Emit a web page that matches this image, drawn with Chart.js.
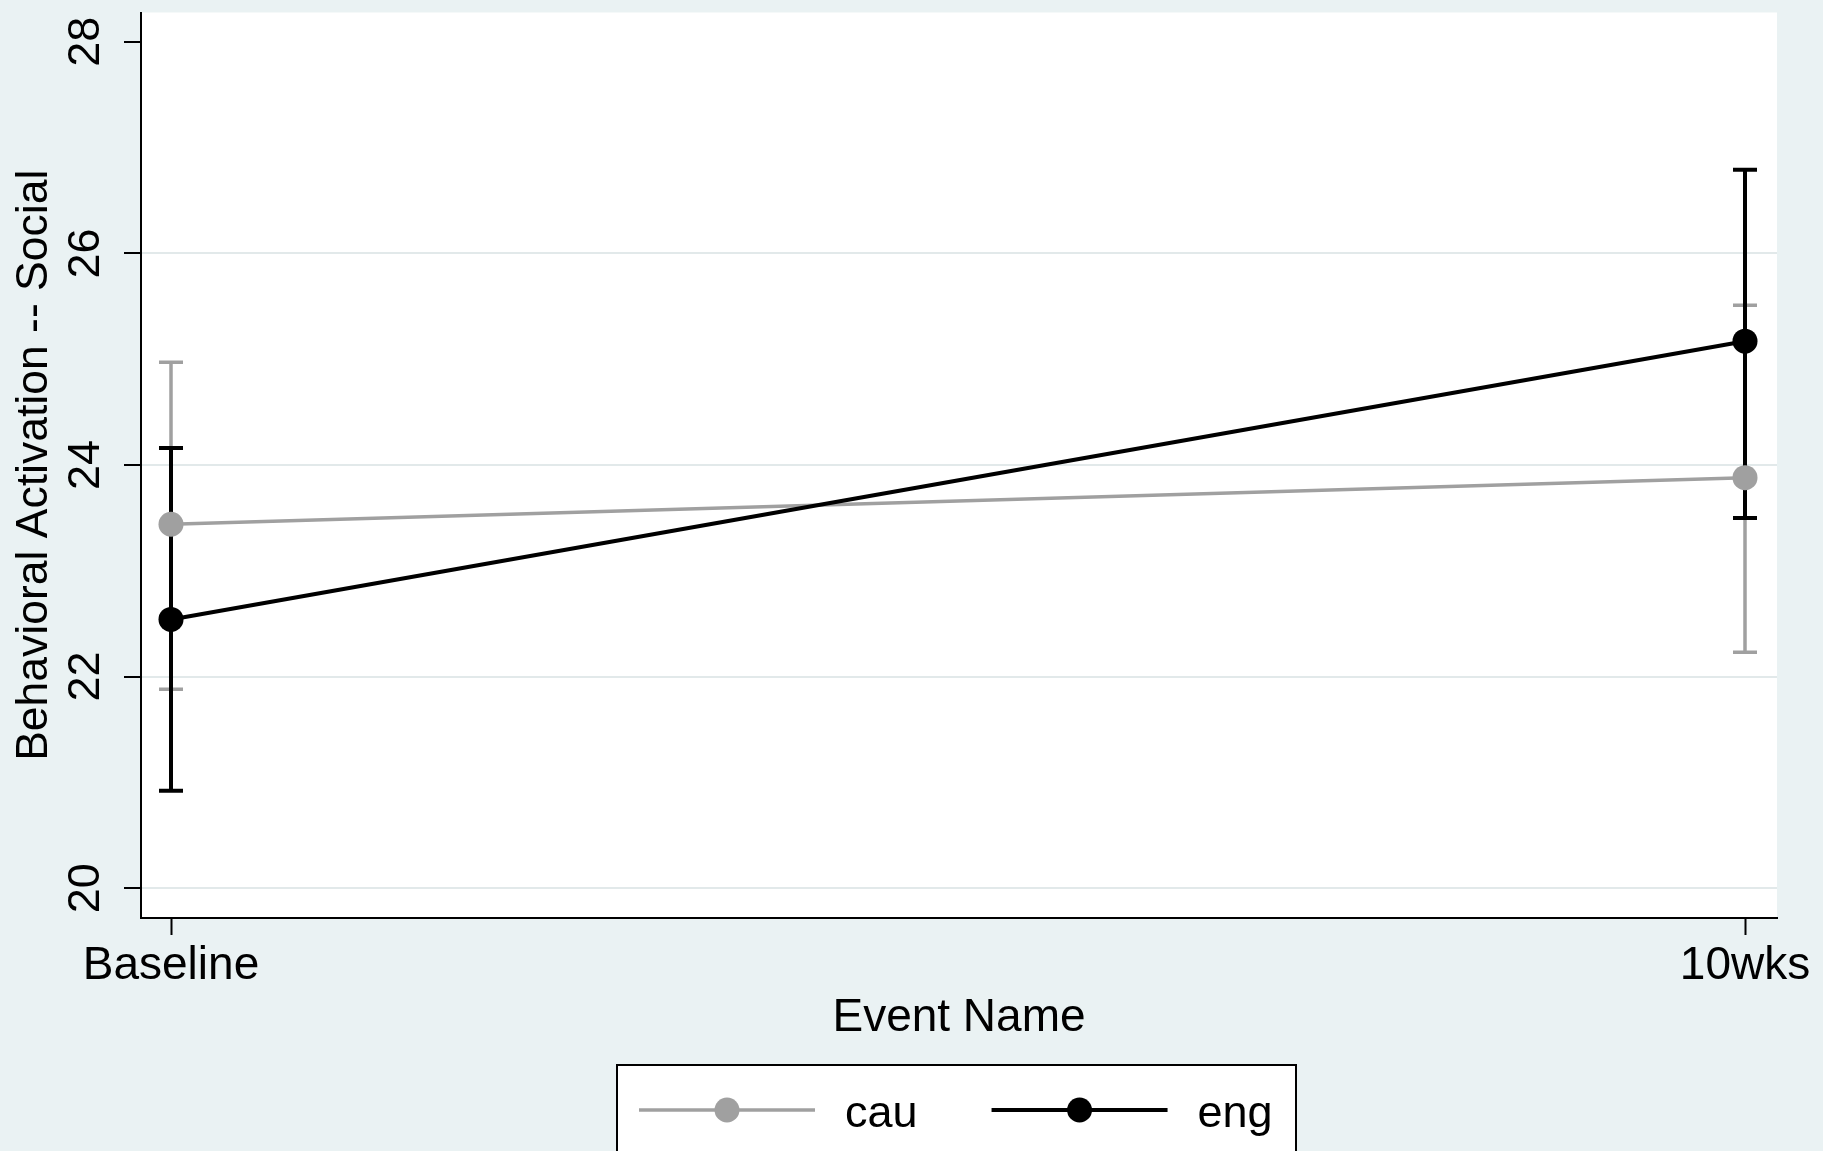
<!DOCTYPE html>
<html>
<head>
<meta charset="utf-8">
<script src="https://cdn.jsdelivr.net/npm/chart.js@4.4.1/dist/chart.umd.min.js"></script>
<style>
  html, body { margin: 0; padding: 0; background: #eaf2f3; overflow: hidden; }
  canvas { display: block; }
</style>
</head>
<body>
<canvas id="chart" width="1823" height="1151"></canvas>
<script>
// Time points and their positions on the x axis
const eventLabels = ['Baseline', '10wks'];
const eventPos = [0, 1];

// y-axis tick values
const yTicks = [20, 22, 24, 26, 28];

// Group means with 95% confidence limits
const cauMean = [23.44, 23.88];
const cauLow  = [21.88, 22.23];
const cauHigh = [24.97, 25.51];

const engMean = [22.54, 25.17];
const engLow  = [20.92, 23.50];
const engHigh = [24.16, 26.79];

const FONT = '"Liberation Sans", Arial, Helvetica, sans-serif';
const BG = '#eaf2f3';
const GRID = '#e2e9ea';
const CAU = '#a0a0a0';
const ENG = '#000000';

Chart.defaults.font.family = FONT;
Chart.defaults.color = '#000';

function points(means) {
  return eventPos.map((x, i) => ({ x: x, y: means[i] }));
}

// Light outer background with a white plot region
const backdrop = {
  id: 'backdrop',
  beforeDraw(chart) {
    const { ctx, chartArea: a } = chart;
    ctx.save();
    ctx.fillStyle = BG;
    ctx.fillRect(0, 0, chart.width, chart.height);
    ctx.fillStyle = '#ffffff';
    ctx.fillRect(a.left, a.top, a.right - a.left, a.bottom - a.top);
    ctx.restore();
  }
};

// Capped confidence-interval whiskers, drawn beneath the connected lines
const ciBars = {
  id: 'ciBars',
  beforeDatasetsDraw(chart, args, opts) {
    const { ctx, scales: { x, y } } = chart;
    ctx.save();
    chart.data.datasets.forEach(ds => {
      ctx.strokeStyle = ds.borderColor;
      ctx.lineWidth = ds.borderWidth;
      ctx.lineCap = 'butt';
      ds.data.forEach((p, i) => {
        const px = x.getPixelForValue(p.x);
        const yLo = y.getPixelForValue(ds.ciLow[i]);
        const yHi = y.getPixelForValue(ds.ciHigh[i]);
        ctx.beginPath();
        ctx.moveTo(px, yLo);
        ctx.lineTo(px, yHi);
        ctx.moveTo(px - opts.capHalf, yLo);
        ctx.lineTo(px + opts.capHalf, yLo);
        ctx.moveTo(px - opts.capHalf, yHi);
        ctx.lineTo(px + opts.capHalf, yHi);
        ctx.stroke();
      });
    });
    ctx.restore();
  }
};

// Boxed legend below the axis: line-with-marker key followed by the group name
const boxedLegend = {
  id: 'boxedLegend',
  afterDraw(chart, args, o) {
    const { ctx } = chart;
    ctx.save();
    ctx.fillStyle = '#ffffff';
    ctx.fillRect(o.left, o.top, o.right - o.left, o.bottom - o.top);
    ctx.strokeStyle = '#000';
    ctx.lineWidth = 2;
    ctx.strokeRect(o.left, o.top, o.right - o.left, o.bottom - o.top);
    ctx.font = o.fontSize + 'px ' + FONT;
    ctx.textBaseline = 'middle';
    ctx.textAlign = 'left';
    let xPos = o.left + o.startPad;
    chart.data.datasets.forEach(ds => {
      ctx.strokeStyle = ds.borderColor;
      ctx.lineWidth = ds.borderWidth;
      ctx.beginPath();
      ctx.moveTo(xPos, o.lineY);
      ctx.lineTo(xPos + o.lineLen, o.lineY);
      ctx.stroke();
      ctx.fillStyle = ds.pointBackgroundColor;
      ctx.beginPath();
      ctx.arc(xPos + o.lineLen / 2, o.lineY, ds.pointRadius, 0, Math.PI * 2);
      ctx.fill();
      const tx = xPos + o.lineLen + o.textGap;
      ctx.fillStyle = '#000';
      ctx.fillText(ds.label, tx, o.textY);
      xPos = tx + ctx.measureText(ds.label).width + o.itemGap;
    });
    ctx.restore();
  }
};

new Chart(document.getElementById('chart').getContext('2d'), {
  type: 'line',
  data: {
    datasets: [
      {
        label: 'cau',
        data: points(cauMean),
        ciLow: cauLow,
        ciHigh: cauHigh,
        borderColor: CAU,
        backgroundColor: CAU,
        borderWidth: 3.5,
        pointRadius: 12.5,
        pointHoverRadius: 12.5,
        pointBackgroundColor: CAU,
        pointBorderWidth: 0,
        tension: 0,
        fill: false,
        order: 1
      },
      {
        label: 'eng',
        data: points(engMean),
        ciLow: engLow,
        ciHigh: engHigh,
        borderColor: ENG,
        backgroundColor: ENG,
        borderWidth: 4,
        pointRadius: 12.5,
        pointHoverRadius: 12.5,
        pointBackgroundColor: ENG,
        pointBorderWidth: 0,
        tension: 0,
        fill: false,
        order: 0
      }
    ]
  },
  options: {
    responsive: false,
    animation: false,
    devicePixelRatio: 1,
    events: [],
    layout: { padding: { left: 0, top: 9, right: 46, bottom: 105 } },
    plugins: {
      legend: { display: false },
      tooltip: { enabled: false },
      ciBars: { capHalf: 12 },
      boxedLegend: {
        left: 617, right: 1296, top: 1065, bottom: 1180,
        startPad: 22, lineLen: 176, textGap: 30, itemGap: 74,
        lineY: 1110, textY: 1115, fontSize: 45
      }
    },
    scales: {
      x: {
        type: 'linear',
        min: -0.01906,
        max: 1.02033,
        afterBuildTicks: s => { s.ticks = eventPos.map(v => ({ value: v })); },
        afterFit: s => { s.height = 128; s.paddingLeft = 0; s.paddingRight = 0; },
        grid: {
          drawOnChartArea: false,
          color: 'rgba(0,0,0,0)',
          tickColor: '#000',
          tickWidth: 2,
          tickLength: 17
        },
        border: { display: true, color: '#000', width: 2 },
        ticks: {
          font: { size: 46 },
          color: '#000',
          padding: 4,
          autoSkip: false,
          minRotation: 0,
          maxRotation: 0,
          callback: v => {
            const i = eventPos.indexOf(v);
            return i >= 0 ? eventLabels[i] : '';
          }
        },
        title: {
          display: true,
          text: 'Event Name',
          font: { size: 46 },
          color: '#000',
          padding: { top: 0, bottom: 0 }
        }
      },
      y: {
        min: 19.718,
        max: 28.277,
        afterBuildTicks: s => { s.ticks = yTicks.map(v => ({ value: v })); },
        afterFit: s => { s.width = 141; s.paddingTop = 0; s.paddingBottom = 0; },
        grid: {
          color: c => (c.tick && c.tick.value === yTicks[yTicks.length - 1]) ? 'rgba(0,0,0,0)' : GRID,
          lineWidth: 2,
          tickColor: '#000',
          tickWidth: 2,
          tickLength: 17
        },
        border: { display: true, color: '#000', width: 2 },
        ticks: {
          font: { size: 45 },
          color: '#000',
          padding: 12,
          autoSkip: false,
          minRotation: 90,
          maxRotation: 90,
          crossAlign: 'center'
        },
        title: {
          display: true,
          text: 'Behavioral Activation -- Social',
          font: { size: 44.5 },
          color: '#000',
          padding: { top: 8, bottom: 0 }
        }
      }
    }
  },
  plugins: [backdrop, ciBars, boxedLegend]
});
</script>
</body>
</html>
